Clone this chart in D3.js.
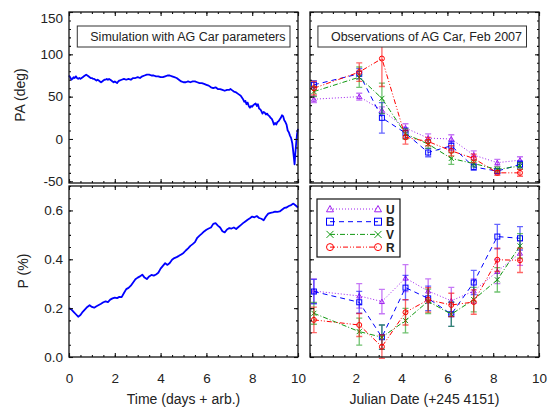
<!DOCTYPE html>
<html>
<head>
<meta charset="utf-8">
<script src="https://cdn.jsdelivr.net/npm/d3@7"></script>
<style>
  body { margin: 0; background: #fff; }
  text { font-family: "Liberation Sans", Arial, Helvetica, sans-serif; fill: #222; }
</style>
</head>
<body>
<div id="chart"></div>
<script>
// =============================
// DATA - simulation (left panels)
// =============================
const simPaTime = [0.00,0.05,0.10,0.15,0.20,0.25,0.30,0.35,0.40,0.45,0.50,0.55,0.60,0.65,0.70,0.75,0.80,0.85,0.90,0.95,
  1.00,1.05,1.10,1.15,1.20,1.25,1.30,1.35,1.40,1.45,1.50,1.55,1.60,1.65,1.70,1.75,1.80,1.85,1.90,1.95,
  2.00,2.05,2.10,2.15,2.20,2.30,2.40,2.50,2.60,2.70,2.80,2.90,3.00,3.10,3.20,3.30,3.40,3.50,3.60,3.70,
  3.80,3.90,4.00,4.10,4.20,4.30,4.40,4.50,4.60,4.70,4.80,4.90,5.00,5.10,5.20,5.30,5.40,5.50,5.60,5.70,
  5.80,5.90,6.00,6.10,6.20,6.30,6.40,6.50,6.60,6.70,6.80,6.90,7.00,7.05,7.10,7.20,7.30,7.40,7.50,7.55,
  7.60,7.65,7.70,7.75,7.80,7.85,7.90,7.95,8.00,8.05,8.10,8.15,8.20,8.25,8.30,8.35,8.40,8.45,8.50,8.55,
  8.60,8.65,8.70,8.75,8.80,8.85,8.90,8.95,9.00,9.05,9.10,9.15,9.20,9.25,9.30,9.35,9.40,9.45,9.50,9.55,
  9.60,9.65,9.70,9.75,9.78,9.82,9.85,9.88,9.92,9.96,10.0];
const simPaValues = [75,73,70,71,73,72,74,72,71,72,71,72,73,74,75,76,75,74,73,72,
  72,71,71,70,69,70,69,68,67,68,69,70,70,71,70,71,70,69,68,67,
  68,67,66,68,69,70,71,70,71,70,72,72,73,72,74,75,76,76,75,75,
  74,74,73,73,74,75,75,74,73,72,70,68,67,67,68,67,68,68,67,66,
  66,65,64,63,61,60,61,59,59,58,57,58,58,59,58,56,55,53,51,49,
  47,44,45,41,43,39,37,39,38,40,41,42,39,41,36,35,33,30,32,31,
  29,30,28,27,25,24,21,17,19,17,20,21,23,25,28,27,22,20,17,10,
  8,4,1,-5,-12,-22,-30,-18,-5,6,12];

const simPTime = [0.0,0.1,0.2,0.3,0.4,0.5,0.6,0.7,0.8,0.9,1.0,1.1,1.2,1.3,1.4,1.5,1.6,1.7,1.8,1.9,
  2.0,2.1,2.2,2.3,2.4,2.5,2.6,2.7,2.8,2.9,3.0,3.1,3.2,3.3,3.4,3.5,3.6,3.7,3.8,3.9,
  4.0,4.1,4.2,4.3,4.4,4.5,4.6,4.7,4.8,4.9,5.0,5.1,5.2,5.3,5.4,5.5,5.6,5.7,5.8,5.9,
  6.0,6.1,6.2,6.3,6.4,6.5,6.6,6.7,6.8,6.9,7.0,7.1,7.2,7.3,7.4,7.5,7.6,7.7,7.8,7.9,
  8.0,8.1,8.2,8.3,8.4,8.5,8.6,8.7,8.8,8.9,9.0,9.1,9.2,9.3,9.4,9.5,9.6,9.7,9.8,9.9,10.0];
const simPValues = [0.200,0.195,0.185,0.175,0.165,0.172,0.185,0.195,0.205,0.212,0.205,0.202,0.208,0.213,0.218,0.224,0.228,0.225,0.235,0.240,
  0.243,0.241,0.246,0.245,0.262,0.278,0.283,0.292,0.305,0.318,0.325,0.330,0.337,0.325,0.319,0.330,0.336,0.333,0.338,0.345,
  0.362,0.373,0.384,0.377,0.385,0.398,0.405,0.409,0.414,0.420,0.426,0.436,0.445,0.455,0.462,0.470,0.488,0.497,0.505,0.514,
  0.521,0.526,0.530,0.545,0.548,0.538,0.530,0.515,0.510,0.522,0.528,0.526,0.530,0.524,0.532,0.540,0.548,0.555,0.562,0.568,
  0.575,0.572,0.577,0.569,0.566,0.560,0.575,0.587,0.590,0.592,0.595,0.594,0.596,0.603,0.610,0.612,0.618,0.622,0.628,0.620,0.612];

// =============================
// DATA - observations (right panels)
// =============================
const bands = ["U", "B", "V", "R"];
const obsDates = [0.17, 2.15, 3.14, 4.17, 5.16, 6.17, 7.15, 8.18, 9.17];

const paU = [47, 50, 34, 13, 1, 0, -19, -28, -25];
const paB = [64, 77, 25, 7, -16, -8, -33, -38, -30];
const paV = [56, 73, 48, 6, -6, -23, -29, -36, -32];
const paR = [60, 79, 95, 2, -3, -14, -23, -40, -40];
const paErrU = [4, 4, 4, 5, 5, 5, 5, 4, 4];
const paErrB = [5, 6, 18, 6, 5, 5, 4, 3, 4];
const paErrV = [6, 12, 18, 6, 5, 7, 4, 3, 4];
const paErrR = [8, 11, 33, 8, 5, 6, 5, 3, 4];

const pU = [0.27, 0.25, 0.227, 0.323, 0.27, 0.23, 0.27, 0.35, 0.425];
const pB = [0.268, 0.224, 0.081, 0.284, 0.24, 0.175, 0.305, 0.493, 0.486];
const pV = [0.179, 0.104, 0.081, 0.149, 0.228, 0.175, 0.235, 0.316, 0.455];
const pR = [0.152, 0.131, 0.042, 0.183, 0.234, 0.213, 0.225, 0.398, 0.396];
const pErrU = [0.05, 0.05, 0.05, 0.055, 0.05, 0.055, 0.05, 0.05, 0.05];
const pErrB = [0.05, 0.045, 0.05, 0.05, 0.05, 0.05, 0.05, 0.05, 0.048];
const pErrV = [0.045, 0.055, 0.05, 0.05, 0.05, 0.05, 0.05, 0.05, 0.05];
const pErrR = [0.052, 0.047, 0.048, 0.052, 0.05, 0.048, 0.05, 0.048, 0.05];

// =============================
// TICKS + LABELS
// =============================
const xTicks = [0, 2, 4, 6, 8, 10];
const paTicks = [-50, 0, 50, 100, 150];
const pTicks = [0.0, 0.2, 0.4, 0.6];
const simTitle = "Simulation with AG Car parameters";
const obsTitle = "Observations of AG Car, Feb 2007";

// =============================
// STYLE
// =============================
const bandColor = { U: "#a020f0", B: "#0000ff", V: "#119911", R: "#ff0000" };
const bandDash = { U: "1,2", B: "5,4", V: "5,2,1,2", R: "5,2,1,2,1,2" };
const bandShape = { U: "triangle", B: "square", V: "cross", R: "circle" };

const width = 550, height = 408;
const svg = d3.select("#chart").append("svg")
  .attr("width", width).attr("height", height);

// scales
const xLeft = d3.scaleLinear().domain([0, 10]).range([69, 298]);
const xRight = d3.scaleLinear().domain([0, 10]).range([310, 539]);
const yPA = d3.scaleLinear().domain([-52, 150]).range([183, 12]);
const yP = d3.scaleLinear().domain([0, 0.70]).range([357, 186]);

// plain hyphen, like the original (d3 would use a unicode minus)
const intFmt = d => String(d);

// =============================
// FRAME + TICKS
// =============================
function drawFrame(x, y, yMajor, yMinor, yFmt, showY, showX, skipZero) {
  const g = svg.append("g");
  const [x0, x1] = x.range();
  const [yb, yt] = y.range();
  const xMinor = d3.range(0, 10.01, 0.5);

  function ax(axis, tx, ty, vals, size, fmt, pad) {
    const a = g.append("g").attr("transform", `translate(${tx},${ty})`)
      .call(axis.tickValues(vals).tickSize(-size).tickPadding(pad || 3).tickFormat(fmt || (() => "")));
    a.select(".domain").remove();
    a.selectAll("line").attr("stroke", "#111").attr("stroke-width", 1.1);
    a.selectAll("text").attr("font-size", "13.5px").attr("fill", "#222")
      .attr("font-family", "Liberation Sans, Arial, sans-serif");
    return a;
  }

  // x axis
  ax(d3.axisBottom(x), 0, yb, xMinor, 2);
  ax(d3.axisTop(x), 0, yt, xMinor, 2);
  ax(d3.axisTop(x), 0, yt, xTicks, 4);
  ax(d3.axisBottom(x), 0, yb, xTicks, 4,
    showX ? (d => (skipZero && d === 0) ? "" : intFmt(d)) : null, 16);

  // y axis
  ax(d3.axisLeft(y), x0, 0, yMinor, 2);
  ax(d3.axisRight(y), x1, 0, yMinor, 2);
  ax(d3.axisRight(y), x1, 0, yMajor, 4);
  const yl = ax(d3.axisLeft(y), x0, 0, yMajor, 4, showY ? yFmt : null, 6);
  // the top label sits a little lower in the original
  yl.selectAll("text").filter(d => d === 150).attr("dy", "0.75em");

  g.append("rect")
    .attr("x", x0).attr("y", yt)
    .attr("width", x1 - x0).attr("height", yb - yt)
    .attr("fill", "none").attr("stroke", "#111").attr("stroke-width", 1.3);
}

// =============================
// MARKERS
// =============================
function marker(g, shape, cx, cy, s, color) {
  if (shape === "triangle") {
    g.append("path")
      .attr("d", `M${cx},${cy - s}L${cx + s},${cy + s * 0.8}L${cx - s},${cy + s * 0.8}Z`)
      .attr("fill", "none").attr("stroke", color).attr("stroke-width", 1);
  } else if (shape === "square") {
    g.append("rect")
      .attr("x", cx - s).attr("y", cy - s).attr("width", 2 * s).attr("height", 2 * s)
      .attr("fill", "none").attr("stroke", color).attr("stroke-width", 1);
  } else if (shape === "cross") {
    g.append("path")
      .attr("d", `M${cx - s},${cy - s}L${cx + s},${cy + s}M${cx - s},${cy + s}L${cx + s},${cy - s}`)
      .attr("stroke", color).attr("stroke-width", 1);
  } else {
    g.append("circle")
      .attr("cx", cx).attr("cy", cy).attr("r", s)
      .attr("fill", "none").attr("stroke", color).attr("stroke-width", 1);
  }
}

// =============================
// SIMULATION CURVES
// =============================
function drawSim(times, values, y) {
  const pts = times.map((t, i) => [t, values[i]]);
  svg.append("path")
    .datum(pts)
    .attr("d", d3.line().x(d => xLeft(d[0])).y(d => y(d[1])))
    .attr("fill", "none")
    .attr("stroke", "#0000ff")
    .attr("stroke-width", 1.8)
    .attr("stroke-linejoin", "round");
}

// =============================
// OBSERVATIONS
// =============================
function drawObs(series, errs, y) {
  const g = svg.append("g");
  bands.forEach(b => {
    const vals = series[b], err = errs[b], col = bandColor[b];
    // error bars
    obsDates.forEach((d, i) => {
      const cx = xRight(d);
      const y1 = y(vals[i] - err[i]), y2 = y(vals[i] + err[i]);
      g.append("path")
        .attr("d", `M${cx},${y1}L${cx},${y2}M${cx - 3},${y1}L${cx + 3},${y1}M${cx - 3},${y2}L${cx + 3},${y2}`)
        .attr("stroke", col).attr("stroke-opacity", 0.6).attr("stroke-width", 1.3).attr("fill", "none");
    });
    // connecting line
    g.append("path")
      .datum(obsDates.map((d, i) => [d, vals[i]]))
      .attr("d", d3.line().x(d => xRight(d[0])).y(d => y(d[1])))
      .attr("fill", "none").attr("stroke", col).attr("stroke-width", 1)
      .attr("stroke-dasharray", bandDash[b]);
    obsDates.forEach((d, i) => marker(g, bandShape[b], xRight(d), y(vals[i]), 2.5, col));
  });
}

// =============================
// TITLE BOXES
// =============================
function titleBox(label, right, cy) {
  const g = svg.append("g");
  const rect = g.append("rect");
  const t = g.append("text")
    .attr("x", right - 4.5).attr("y", cy + 4.5)
    .attr("text-anchor", "end").attr("font-size", "12.5px")
    .text(label);
  const w = t.node().getComputedTextLength();
  rect.attr("x", right - 4.5 - w - 13).attr("y", cy - 10.5)
    .attr("width", w + 17.5).attr("height", 21)
    .attr("fill", "#fff").attr("stroke", "#333").attr("stroke-width", 1);
}

// =============================
// LEGEND
// =============================
function drawLegend() {
  const g = svg.append("g");
  g.append("rect")
    .attr("x", 317).attr("y", 199).attr("width", 83).attr("height", 58)
    .attr("fill", "#fff").attr("stroke", "#111").attr("stroke-width", 1.2);
  bands.forEach((b, i) => {
    const cy = 209 + i * 12.7, col = bandColor[b];
    g.append("line")
      .attr("x1", 330).attr("x2", 378).attr("y1", cy).attr("y2", cy)
      .attr("stroke", col).attr("stroke-width", 1).attr("stroke-dasharray", bandDash[b]);
    marker(g, bandShape[b], 330, cy, 3.5, col);
    marker(g, bandShape[b], 378, cy, 3.5, col);
    g.append("text")
      .attr("x", 386).attr("y", cy + 4.5)
      .attr("font-size", "12px").attr("font-weight", "bold")
      .text(b);
  });
}

// =============================
// DRAW EVERYTHING
// =============================
drawSim(simPaTime, simPaValues, yPA);
drawSim(simPTime, simPValues, yP);
drawObs({ U: paU, B: paB, V: paV, R: paR }, { U: paErrU, B: paErrB, V: paErrV, R: paErrR }, yPA);
drawObs({ U: pU, B: pB, V: pV, R: pR }, { U: pErrU, B: pErrB, V: pErrV, R: pErrR }, yP);

const paMinor = d3.range(-50, 151, 10);
const pMinor = d3.range(0, 0.701, 0.05);
drawFrame(xLeft, yPA, paTicks, paMinor, intFmt, true, false, false);
drawFrame(xRight, yPA, paTicks, paMinor, null, false, false, false);
drawFrame(xLeft, yP, pTicks, pMinor, d3.format(".1f"), true, true, false);
drawFrame(xRight, yP, pTicks, pMinor, null, false, true, true);

titleBox(simTitle, 290, 36.5);
titleBox(obsTitle, 526.5, 36.5);
drawLegend();

// axis titles
svg.append("text")
  .attr("transform", "translate(25,95) rotate(-90)")
  .attr("text-anchor", "middle").attr("font-size", "14px")
  .text("PA (deg)");
svg.append("text")
  .attr("transform", "translate(28,271) rotate(-90)")
  .attr("text-anchor", "middle").attr("font-size", "14px")
  .text("P (%)");
svg.append("text")
  .attr("x", 183.5).attr("y", 404)
  .attr("text-anchor", "middle").attr("font-size", "14px")
  .text("Time (days + arb.)");
svg.append("text")
  .attr("x", 424.5).attr("y", 404)
  .attr("text-anchor", "middle").attr("font-size", "14px")
  .text("Julian Date (+245 4151)");
</script>
</body>
</html>
